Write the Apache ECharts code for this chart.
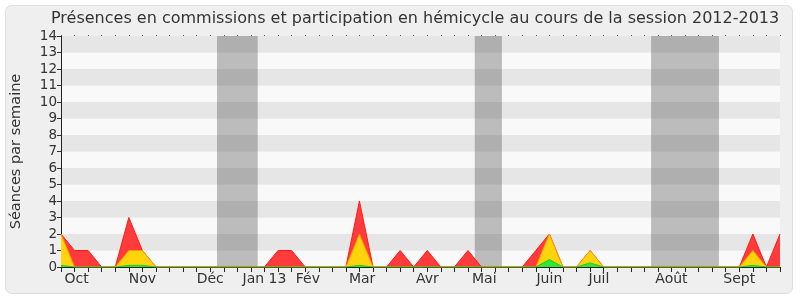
<!DOCTYPE html>
<html>
<head>
<meta charset="utf-8">
<script src="https://cdn.jsdelivr.net/npm/echarts@6/dist/echarts.min.js"></script>
<style>
  html, body { margin: 0; padding: 0; background: #ffffff; }
  #chart { width: 800px; height: 300px; }
</style>
</head>
<body>
<div id="chart"></div>
<script>
// Weekly sittings, session 2012-2013 (week 0 = first week of October 2012)
const weekCount = 54;

// Total weekly presences (commissions + hemicycle)
const presenceTotal = [2, 1, 1, 0, 0, 3, 1, 0, 0, 0, 0, 0, 0, 0, 0, 0, 1, 1, 0, 0,
                       0, 0, 4, 0, 0, 1, 0, 1, 0, 0, 1, 0, 0, 0, 0, 1, 2, 0, 0, 1,
                       0, 0, 0, 0, 0, 0, 0, 0, 0, 0, 0, 2, 0, 2];
// Commission sittings
const commissions = [2, 0, 0, 0, 0, 1, 1, 0, 0, 0, 0, 0, 0, 0, 0, 0, 0, 0, 0, 0,
                     0, 0, 2, 0, 0, 0, 0, 0, 0, 0, 0, 0, 0, 0, 0, 0, 2, 0, 0, 1,
                     0, 0, 0, 0, 0, 0, 0, 0, 0, 0, 0, 1, 0, 0];
// Participation in the hemicycle
const hemicycle = [0.1, 0, 0, 0, 0, 0.1, 0.1, 0, 0, 0, 0, 0, 0, 0, 0, 0, 0, 0, 0, 0,
                   0, 0, 0.1, 0, 0, 0, 0, 0, 0, 0, 0, 0, 0, 0, 0, 0, 0.45, 0, 0, 0.25,
                   0, 0, 0, 0, 0, 0, 0, 0, 0, 0, 0, 0.1, 0, 0];

// Parliamentary recess periods, in weeks
const recessStart = [11.5, 30.5, 43.5];
const recessEnd = [14.5, 32.5, 48.5];

// Month labels and the week at which each one is written
const monthLabels = ['Oct', 'Nov', 'Déc', 'Jan 13', 'Fév', 'Mar', 'Avr', 'Mai', 'Juin', 'Juil', 'Août', 'Sept'];
const monthWeeks = [1.15, 6, 11, 15, 18.2, 22.2, 27, 31.2, 36, 39.65, 45, 50];

const yTicks = [0, 1, 2, 3, 4, 5, 6, 7, 8, 9, 10, 11, 12, 13, 14];

const FONT = 'DejaVu Sans';
const toPairs = arr => arr.map((v, i) => [i, v]);

const chart = echarts.init(document.getElementById('chart'), null, { renderer: 'canvas' });

chart.setOption({
  animation: false,
  backgroundColor: '#ffffff',
  graphic: [{
    type: 'rect',
    z: -10,
    silent: true,
    shape: { x: 5.5, y: 5.5, width: 787, height: 288, r: 6 },
    style: { fill: '#efefef', stroke: '#dedede', lineWidth: 1 }
  }],
  title: {
    text: 'Présences en commissions et participation en hémicycle au cours de la session 2012-2013',
    left: 46,
    top: 6,
    textStyle: { fontFamily: FONT, fontSize: 16, fontWeight: 'normal', color: '#333333' }
  },
  grid: { left: 61, right: 20, top: 36, bottom: 33, containLabel: false },
  xAxis: [{
    type: 'value',
    min: 0,
    max: weekCount - 1,
    interval: 1,
    position: 'bottom',
    axisLine: { show: true, lineStyle: { color: '#222222', width: 1 } },
    axisTick: { show: true, length: 5, lineStyle: { color: '#222222' } },
    splitLine: { show: false },
    axisLabel: {
      show: true,
      customValues: monthWeeks,
      margin: 5,
      fontFamily: FONT,
      fontSize: 14,
      color: '#333333',
      formatter: v => {
        const k = monthWeeks.findIndex(w => Math.abs(w - v) < 1e-6);
        return k >= 0 ? monthLabels[k] : '';
      }
    }
  }, {
    type: 'value',
    min: 0,
    max: weekCount - 1,
    interval: 1,
    position: 'top',
    axisLine: { show: false },
    axisTick: { show: true, inside: false, length: 1, lineStyle: { color: '#555555' } },
    axisLabel: { show: false },
    splitLine: { show: false }
  }],
  yAxis: {
    type: 'value',
    min: 0,
    max: 14,
    interval: 1,
    name: 'Séances par semaine',
    nameLocation: 'middle',
    nameGap: 37,
    nameRotate: 90,
    nameTextStyle: { fontFamily: FONT, fontSize: 14.5, color: '#333333' },
    axisLine: { show: true, lineStyle: { color: '#222222' } },
    axisTick: { show: true, length: 4, lineStyle: { color: '#333333' } },
    axisLabel: {
      fontFamily: FONT, fontSize: 13.5, color: '#333333', margin: 4,
      customValues: yTicks
    },
    splitLine: { show: false },
    splitArea: { show: true, areaStyle: { color: ['#f9f9f9', '#e6e6e6'] } }
  },
  series: [{
    name: 'Présences',
    type: 'line',
    data: toPairs(presenceTotal),
    symbol: 'none',
    z: 2,
    lineStyle: { color: '#ff1a1a', width: 1 },
    areaStyle: { color: '#ff3b3b', opacity: 1 },
    markArea: {
      silent: true,
      itemStyle: { color: 'rgba(60,60,60,0.32)' },
      data: recessStart.map((s, k) => [{ xAxis: s }, { xAxis: recessEnd[k] }])
    }
  }, {
    name: 'Commissions',
    type: 'line',
    data: toPairs(commissions),
    symbol: 'none',
    z: 3,
    lineStyle: { color: '#ff9a00', width: 1 },
    areaStyle: { color: '#ffd40c', opacity: 1 }
  }, {
    name: 'Hémicycle',
    type: 'line',
    data: toPairs(hemicycle),
    symbol: 'none',
    z: 4,
    lineStyle: { color: '#22cc22', width: 1 },
    areaStyle: { color: '#33e633', opacity: 1 }
  }]
});
</script>
</body>
</html>
